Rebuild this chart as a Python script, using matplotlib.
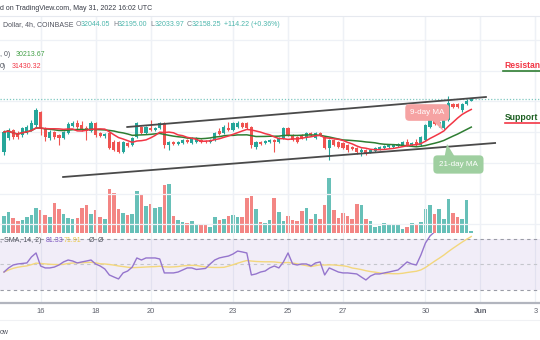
import numpy as np
import pandas as pd
import matplotlib
matplotlib.use("Agg")
import matplotlib.pyplot as plt
from matplotlib.lines import Line2D
from matplotlib.patches import Polygon

plt.rcParams["font.family"] = ["Liberation Sans", "DejaVu Sans"]

W, H = 540, 340

# ---------------------------------------------------------------- data (BTC/USD 4h, Coinbase)
start = "2022-05-14 16:00"
opens = [28710, 29620, 30140, 29945, 29815, 29945, 30140, 30465, 31310, 30270,
         29620, 30010, 29815, 29620, 29945, 30400, 30595, 30465, 30270, 30075,
         30595, 29945, 29750, 29945, 29360, 29360, 28710, 29295, 29165, 29685,
         30335, 29945, 30270, 30140, 30270, 30595, 29165, 29360, 29230, 29295,
         29490, 29295, 29360, 29490, 29425, 29360, 29490, 30075, 29945, 30270,
         30140, 30335, 30595, 30595, 30335, 29035, 29360, 29295, 29360, 29490,
         29360, 29620, 30270, 29815, 29685, 29815, 29620, 29945, 29620, 29945,
         29685, 28970, 29490, 29360, 29295, 29165, 29035, 28970, 28710, 28840,
         28710, 28775, 28905, 28970, 29035, 29035, 29100, 29165, 29360, 29165,
         29360, 29165, 29490, 30335, 30725, 30530, 30270, 30790, 31830, 31830,
         31440, 31830, 32044.05]
closes = [30010, 30140, 29685, 29685, 30270, 30335, 30595, 31440, 30270, 29685,
          30010, 29685, 29620, 30010, 30530, 30595, 30335, 30205, 30075, 30595,
          29815, 29750, 29880, 28970, 28840, 28710, 29360, 29100, 29620, 30595,
          29945, 30335, 30140, 30270, 30595, 29165, 29360, 29230, 29360, 29490,
          29360, 29620, 29620, 29360, 29360, 29490, 29945, 29880, 30335, 30140,
          30595, 30595, 30335, 30270, 29165, 29360, 29230, 29425, 29490, 29360,
          29620, 30270, 29815, 29490, 29360, 29620, 29945, 29815, 29945, 29815,
          28970, 29490, 29165, 29035, 28970, 28840, 28905, 28710, 28840, 28645,
          28840, 28970, 29035, 29100, 29165, 29165, 29230, 29360, 29165, 29295,
          29165, 29685, 30465, 30790, 30530, 30660, 30920, 31895, 31635, 31635,
          31830, 32025, 32158.25]
highs = [30140, 30270, 30205, 30075, 30335, 30465, 30790, 31570, 31375, 30335,
         30140, 30075, 29880, 30075, 30660, 30725, 30790, 30725, 30400, 30725,
         30660, 30010, 29945, 30010, 29490, 29425, 29425, 29360, 29685, 30660,
         30400, 30400, 30790, 30335, 30660, 30660, 29425, 29425, 29425, 29555,
         29555, 29685, 29685, 29555, 29490, 29555, 30010, 30270, 30465, 30660,
         30660, 30725, 30660, 30660, 30400, 29425, 29425, 29490, 29555, 29555,
         29685, 30335, 30335, 29880, 29750, 29880, 30010, 30010, 30010, 30010,
         29750, 29555, 29555, 29425, 29360, 29230, 29100, 29035, 28970, 28905,
         28905, 29035, 29100, 29165, 29230, 29230, 29295, 29425, 29555, 29360,
         29555, 29750, 30530, 30855, 30985, 30920, 31050, 32350, 31895, 31895,
         31895, 32155, 32195.00]
lows = [28515, 29490, 29555, 29555, 29685, 29880, 30075, 30335, 29815, 29425,
        29490, 29555, 29165, 29555, 29880, 30335, 30205, 30075, 29490, 30010,
        29685, 29685, 29620, 28905, 28775, 28645, 28645, 29035, 29100, 29620,
        29880, 29880, 30075, 30075, 30205, 28970, 28840, 29165, 29165, 29230,
        29295, 29230, 29295, 29295, 29295, 29295, 29425, 29815, 29880, 30075,
        30075, 30270, 30270, 30205, 28970, 28905, 29165, 29230, 29295, 28710,
        29295, 29555, 29750, 29425, 29295, 29555, 29490, 29750, 29555, 29750,
        28905, 28190, 29100, 28970, 28905, 28710, 28840, 28580, 28450, 28515,
        28645, 28710, 28840, 28905, 28970, 28970, 29035, 29100, 29100, 29100,
        29100, 29100, 29425, 30270, 30465, 30335, 30205, 30725, 31570, 31570,
        31310, 31765, 32033.97]
volumes = [850, 1050, 750, 600, 650, 800, 900, 1250, 1150, 900,
           800, 1500, 1200, 950, 750, 700, 750, 1250, 1400, 950,
           1150, 800, 700, 2200, 2000, 1200, 1000, 900, 950, 2100,
           1950, 1350, 1450, 1250, 1300, 2400, 2450, 850, 650, 550,
           500, 600, 450, 400, 400, 300, 800, 650, 700, 850,
           900, 800, 800, 1750, 1850, 1200, 550, 500, 650, 1750,
           1050, 600, 850, 650, 600, 1100, 1250, 700, 950, 700,
           1400, 2750, 1150, 750, 1000, 850, 700, 1450, 1400, 700,
           600, 300, 350, 500, 400, 400, 400, 200, 300, 500,
           450, 550, 1200, 1400, 950, 1200, 700, 1700, 1000, 800,
           700, 1650, 100]
rsi = [44.1, 47.3, 49.6, 50.4, 50.8, 51.2, 55.9, 59.0, 48.8, 47.3,
       47.3, 48.0, 49.6, 52.0, 53.5, 52.7, 51.2, 52.0, 52.7, 53.5,
       50.4, 48.8, 46.5, 41.8, 40.2, 38.7, 43.4, 44.9, 48.0, 55.1,
       53.5, 55.1, 55.1, 55.1, 54.3, 43.4, 43.4, 43.4, 44.1, 45.7,
       47.3, 47.3, 46.1, 46.5, 46.9, 50.4, 53.5, 55.1, 55.9, 56.6,
       58.2, 60.5, 59.8, 59.0, 41.8, 42.6, 44.1, 44.9, 47.3, 48.8,
       47.3, 52.0, 59.0, 50.4, 49.6, 50.4, 50.4, 48.8, 51.2, 52.0,
       41.8, 47.3, 45.7, 44.1, 43.4, 43.4, 43.0, 42.6, 40.2, 37.9,
       41.0, 42.6, 42.6, 43.4, 44.1, 44.9, 45.7, 48.8, 52.0, 50.4,
       49.6, 57.4, 66.8, 72.3, 75.5, 75.0, 76.5, 82.0, 80.0, 79.0,
       79.5, 80.5, 81.33]

tick_days = ["2022-05-16", "2022-05-18", "2022-05-20", "2022-05-23", "2022-05-25",
             "2022-05-27", "2022-05-30", "2022-06-01", "2022-06-03"]
tick_labels = ["16", "18", "20", "23", "25", "27", "30", "Jun", "3"]

# trendlines drawn on the chart: (bar index, price) endpoints
upper_channel_x = [26.9, 105.2]
upper_channel_y = [30335, 32285]
lower_channel_x = [12.9, 107.2]
lower_channel_y = [27085, 29295]

UP, DOWN = "#26a69a", "#ef5350"

# ---------------------------------------------------------------- derived series
t = pd.date_range(start, periods=len(closes), freq="4h")
x = np.arange(len(closes))
o, c, h, l = map(np.asarray, (opens, closes, highs, lows))
up = c >= o
col = np.where(up, UP, DOWN)
ma9 = pd.Series(closes).rolling(9, min_periods=1).mean()
ma21 = pd.Series(closes).rolling(21, min_periods=1).mean()
rsi_ma = pd.Series(rsi).rolling(14, min_periods=1).mean()
ticks = [(pd.Timestamp(d) - t[0]) / pd.Timedelta("4h") for d in tick_days]


def fy(y):
    return 1 - y / H


fig = plt.figure(figsize=(W / 100, H / 100), dpi=100)
fig.patch.set_facecolor("white")

axv = fig.add_axes([0, fy(233), 1, 217 / H])
ax = fig.add_axes([0, fy(233), 1, 217 / H], sharex=axv)
axr = fig.add_axes([0, fy(303), 1, 70 / H], sharex=axv)
ax.patch.set_visible(False)
for a in (ax, axv, axr):
    for s in a.spines.values():
        s.set_visible(False)
    a.tick_params(left=False, labelleft=False, bottom=False, labelbottom=False)
    for tk in ticks:
        a.axvline(tk, color="#eef1f6", lw=0.9, zorder=0)

ax.set_xlim(-0.87, 117.0)
ax.set_ylim(23445, 37550)
axv.set_ylim(0, 217 * 50)
axr.set_ylim(19.9, 74.6)

for p in range(24000, 38000, 2000):
    ax.axhline(p, color="#eef1f6", lw=0.9, zorder=0)

# volume
axv.bar(x, volumes, width=0.78, color=col, alpha=0.7, lw=0, zorder=1)

# candles
ax.vlines(x, l, h, colors=col, lw=0.8, zorder=3)
body = np.maximum(np.abs(c - o), 25)
ax.bar(x, body, bottom=np.minimum(o, c), width=0.68, color=col, lw=0, zorder=4)

# moving averages
ax.plot(x, ma21, color="#2e7d32", lw=1.1, zorder=5)
ax.plot(x, ma9, color="#f23645", lw=1.1, zorder=5)

# last price line
ax.axhline(closes[-1], color="#7fc8c0", lw=0.9, ls=(0, (1, 1.5)), zorder=2)

# channel
ax.plot(upper_channel_x, upper_channel_y, color="#4a4a4a", lw=1.3, zorder=6)
ax.plot(lower_channel_x, lower_channel_y, color="#4a4a4a", lw=1.3, zorder=6)

# MA callouts
ax.add_patch(Polygon([[93.2, 30850], [95.0, 30850], [95.9, 30075]],
                     closed=True, fc="#f6a3a3", ec="none", zorder=7))
ax.text(92.4, 31277, "9-day MA", ha="center", va="center", fontsize=5.8,
        color="white", zorder=8,
        bbox=dict(boxstyle="round,pad=0.6,rounding_size=0.5", fc="#f6a3a3", ec="none"))
ax.add_patch(Polygon([[96.2, 28450], [98.3, 28450], [96.7, 29230]],
                     closed=True, fc="#9fcfa0", ec="none", zorder=7))
ax.text(99.2, 27898, "21-day MA", ha="center", va="center", fontsize=5.8,
        color="white", zorder=8,
        bbox=dict(boxstyle="round,pad=0.7,rounding_size=0.5", fc="#9fcfa0", ec="none"))

# RSI pane
axr.axhspan(30, 70, color="#7e57c2", alpha=0.1, lw=0, zorder=0)
axr.axhline(70, color="#9a9ca6", lw=0.8, ls=(0, (3, 3)), zorder=1)
axr.axhline(50, color="#c4c6cc", lw=0.8, ls=(0, (3, 3)), zorder=1)
axr.axhline(30, color="#9a9ca6", lw=0.8, ls=(0, (3, 3)), zorder=1)
axr.plot(x, rsi_ma, color="#f3d77d", lw=1.0, zorder=2)
axr.plot(x, rsi, color="#9575cd", lw=1.0, zorder=3)
axr.spines["bottom"].set_visible(True)
axr.spines["bottom"].set_color("#b2b5be")
axr.spines["bottom"].set_linewidth(1.6)
axr.set_xticks(ticks)
axr.set_xticklabels(tick_labels)
axr.tick_params(labelbottom=True, length=0, pad=3.8, labelsize=5.4, labelcolor="#5d606b")
for lab in axr.get_xticklabels():
    if lab.get_text() == "Jun":
        lab.set_fontweight("bold")

# chart frame lines
fig.add_artist(Line2D([0, 1], [fy(16), fy(16)], color="#e6e9ef", lw=0.8))
fig.add_artist(Line2D([0, 1], [fy(320), fy(320)], color="#f0f1f4", lw=0.8))

# header texts
FS = 5.0
fig.text(0, fy(8), "d on TradingView.com, May 31, 2022 16:02 UTC", fontsize=FS,
         color="#363a45", va="center")
fig.text(3 / W, fy(25), "Dollar, 4h, COINBASE", fontsize=FS, color="#50535e", va="center")
teal = "#4db6ac"
for lbl, val, px in [("O", "32044.05", 76), ("H", "32195.00", 113),
                     ("L", "32033.97", 150), ("C", "32158.25", 187)]:
    fig.text(px / W, fy(25), lbl, fontsize=FS, color="#787b86", va="center")
    fig.text((px + 5) / W, fy(25), val, fontsize=FS, color=teal, va="center")
fig.text(224 / W, fy(25), "+114.22 (+0.36%)", fontsize=FS, color=teal, va="center")
fig.text(0, fy(55), ", 0)", fontsize=FS, color="#50535e", va="center")
fig.text(16 / W, fy(55), "30213.67", fontsize=FS, color="#43a047", va="center")
fig.text(0, fy(66), "0)", fontsize=FS, color="#50535e", va="center")
fig.text(12 / W, fy(66), "31430.32", fontsize=FS, color="#f23645", va="center")

# RSI legend
fig.text(0, fy(240), ", SMA, 14, 2)", fontsize=FS, color="#50535e", va="center")
fig.text(46 / W, fy(240), "81.33", fontsize=FS, color="#7e57c2", va="center")
fig.text(64 / W, fy(240), "71.91", fontsize=FS, color="#e9c84a", va="center")
fig.text(89 / W, fy(240), "\u00d8", fontsize=FS, color="#50535e", va="center")
fig.text(98 / W, fy(240), "\u00d8", fontsize=FS, color="#50535e", va="center")

# support / resistance tags
fig.text(504 / W, fy(65), "Resistance", fontsize=6.2, color="#f23645",
         fontweight="bold", va="center")
fig.add_artist(Line2D([503 / W, 1], [fy(70.5), fy(70.5)], color="#2e7d32", lw=1.2))
fig.text(505 / W, fy(117), "Support", fontsize=6.2, color="#1b5e20",
         fontweight="bold", va="center")
fig.add_artist(Line2D([505 / W, 1], [fy(123), fy(123)], color="#f23645", lw=1.2))

fig.text(0, fy(332), "ow", fontsize=FS, color="#50535e", va="center")

fig.savefig("out.png", dpi=100, facecolor="white")
